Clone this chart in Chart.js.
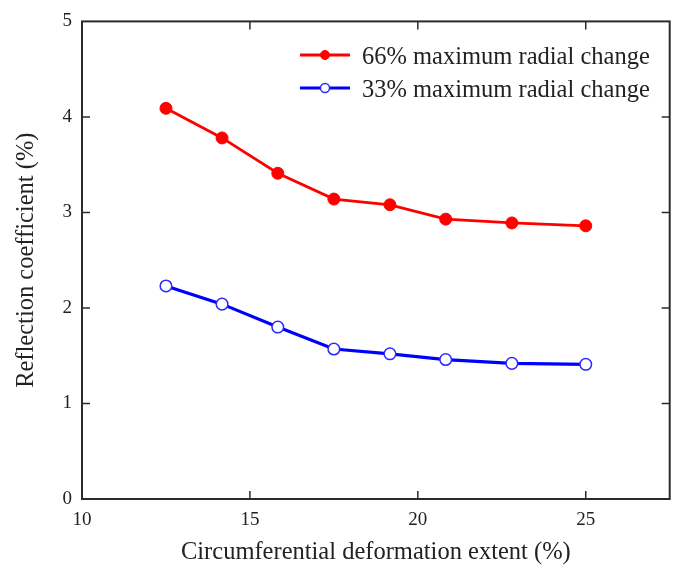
<!DOCTYPE html>
<html>
<head>
<meta charset="utf-8">
<script src="https://cdn.jsdelivr.net/npm/chart.js@4"></script>
<style>
  html, body { margin: 0; padding: 0; background: #fff; }
  #chart { display: block; }
</style>
</head>
<body>
<canvas id="chart" width="677" height="574"></canvas>
<script>
// data
const extent = [12.5, 14.17, 15.83, 17.5, 19.17, 20.83, 22.8, 25];
const coef66 = [4.09, 3.78, 3.41, 3.14, 3.08, 2.93, 2.89, 2.86];
const coef33 = [2.23, 2.04, 1.80, 1.57, 1.52, 1.46, 1.42, 1.41];
const seriesNames = ["66% maximum radial change", "33% maximum radial change"];
const xTitle = "Circumferential deformation extent (%)";
const yTitle = "Reflection coefficient (%)";

const serif = "'Liberation Serif', 'Times New Roman', serif";

function toPoints(xs, ys) {
  return xs.map((x, i) => ({ x: x, y: ys[i] }));
}

// box around plot area + inward tick marks on all four sides
const frame = {
  id: "frame",
  afterDraw(chart) {
    const ctx = chart.ctx;
    const a = chart.chartArea;
    const xs = chart.scales.x, ys = chart.scales.y;
    const len = 8;
    ctx.save();
    ctx.strokeStyle = "#2b2b2b";
    ctx.lineWidth = 1.5;
    ctx.beginPath();
    xs.ticks.forEach(t => {
      const px = xs.getPixelForValue(t.value);
      if (px <= a.left + 1 || px >= a.right - 1) return;
      ctx.moveTo(px, a.bottom); ctx.lineTo(px, a.bottom - len);
      ctx.moveTo(px, a.top); ctx.lineTo(px, a.top + len);
    });
    ys.ticks.forEach(t => {
      const py = ys.getPixelForValue(t.value);
      if (py <= a.top + 1 || py >= a.bottom - 1) return;
      ctx.moveTo(a.left, py); ctx.lineTo(a.left + len, py);
      ctx.moveTo(a.right, py); ctx.lineTo(a.right - len, py);
    });
    ctx.stroke();
    ctx.lineWidth = 2;
    ctx.strokeRect(a.left, a.top, a.right - a.left, a.bottom - a.top);
    ctx.restore();
  }
};

// legend drawn inside the plot, top right
const insideLegend = {
  id: "insideLegend",
  afterDraw(chart) {
    const ctx = chart.ctx;
    const rows = [55, 88];
    ctx.save();
    chart.data.datasets.forEach((ds, i) => {
      const y = rows[i];
      ctx.strokeStyle = ds.borderColor;
      ctx.lineWidth = ds.borderWidth;
      ctx.beginPath();
      ctx.moveTo(300, y); ctx.lineTo(350, y);
      ctx.stroke();
      ctx.beginPath();
      ctx.arc(325, y, 4.5, 0, Math.PI * 2);
      ctx.fillStyle = ds.pointBackgroundColor;
      ctx.fill();
      ctx.lineWidth = ds.pointBorderWidth;
      ctx.strokeStyle = ds.pointBorderColor;
      ctx.stroke();
      ctx.fillStyle = "#222";
      ctx.font = "24.5px " + serif;
      ctx.textBaseline = "middle";
      ctx.textAlign = "left";
      ctx.fillText(ds.label, 362, y + 3);
    });
    ctx.restore();
  }
};

new Chart(document.getElementById("chart"), {
  type: "line",
  data: {
    datasets: [
      {
        label: seriesNames[0],
        data: toPoints(extent, coef66),
        borderColor: "#ff0000",
        borderWidth: 2.8,
        pointRadius: 6,
        pointBackgroundColor: "#ff0000",
        pointBorderColor: "#ff0000",
        pointBorderWidth: 1,
      },
      {
        label: seriesNames[1],
        data: toPoints(extent, coef33),
        borderColor: "#0000ff",
        borderWidth: 3.2,
        pointRadius: 5.8,
        pointBackgroundColor: "#ffffff",
        pointBorderColor: "#2a2aff",
        pointBorderWidth: 1.5,
      },
    ],
  },
  options: {
    responsive: false,
    animation: false,
    devicePixelRatio: 1,
    layout: { padding: { top: 21, right: 1, left: 0, bottom: 0 } },
    plugins: {
      legend: { display: false },
      tooltip: { enabled: false },
    },
    scales: {
      x: {
        type: "linear",
        min: 10,
        max: 27.5,
        grid: { display: false, drawTicks: false },
        border: { display: false },
        ticks: {
          stepSize: 5,
          includeBounds: false,
          padding: 10,
          color: "#222",
          font: { family: serif, size: 19 },
          maxRotation: 0,
        },
        title: {
          display: true,
          text: xTitle,
          color: "#222",
          font: { family: serif, size: 24.5 },
          padding: { top: 0, bottom: 7 },
        },
        afterFit(scale) { scale.height = 75; },
      },
      y: {
        min: 0,
        max: 5,
        grid: { display: false, drawTicks: false },
        border: { display: false },
        ticks: {
          stepSize: 1,
          padding: 10,
          color: "#222",
          font: { family: serif, size: 19 },
        },
        title: {
          display: true,
          text: yTitle,
          color: "#222",
          font: { family: serif, size: 24.5 },
          padding: { top: 12, bottom: 0 },
        },
        afterFit(scale) { scale.width = 82; },
      },
    },
  },
  plugins: [frame, insideLegend],
});
</script>
</body>
</html>
